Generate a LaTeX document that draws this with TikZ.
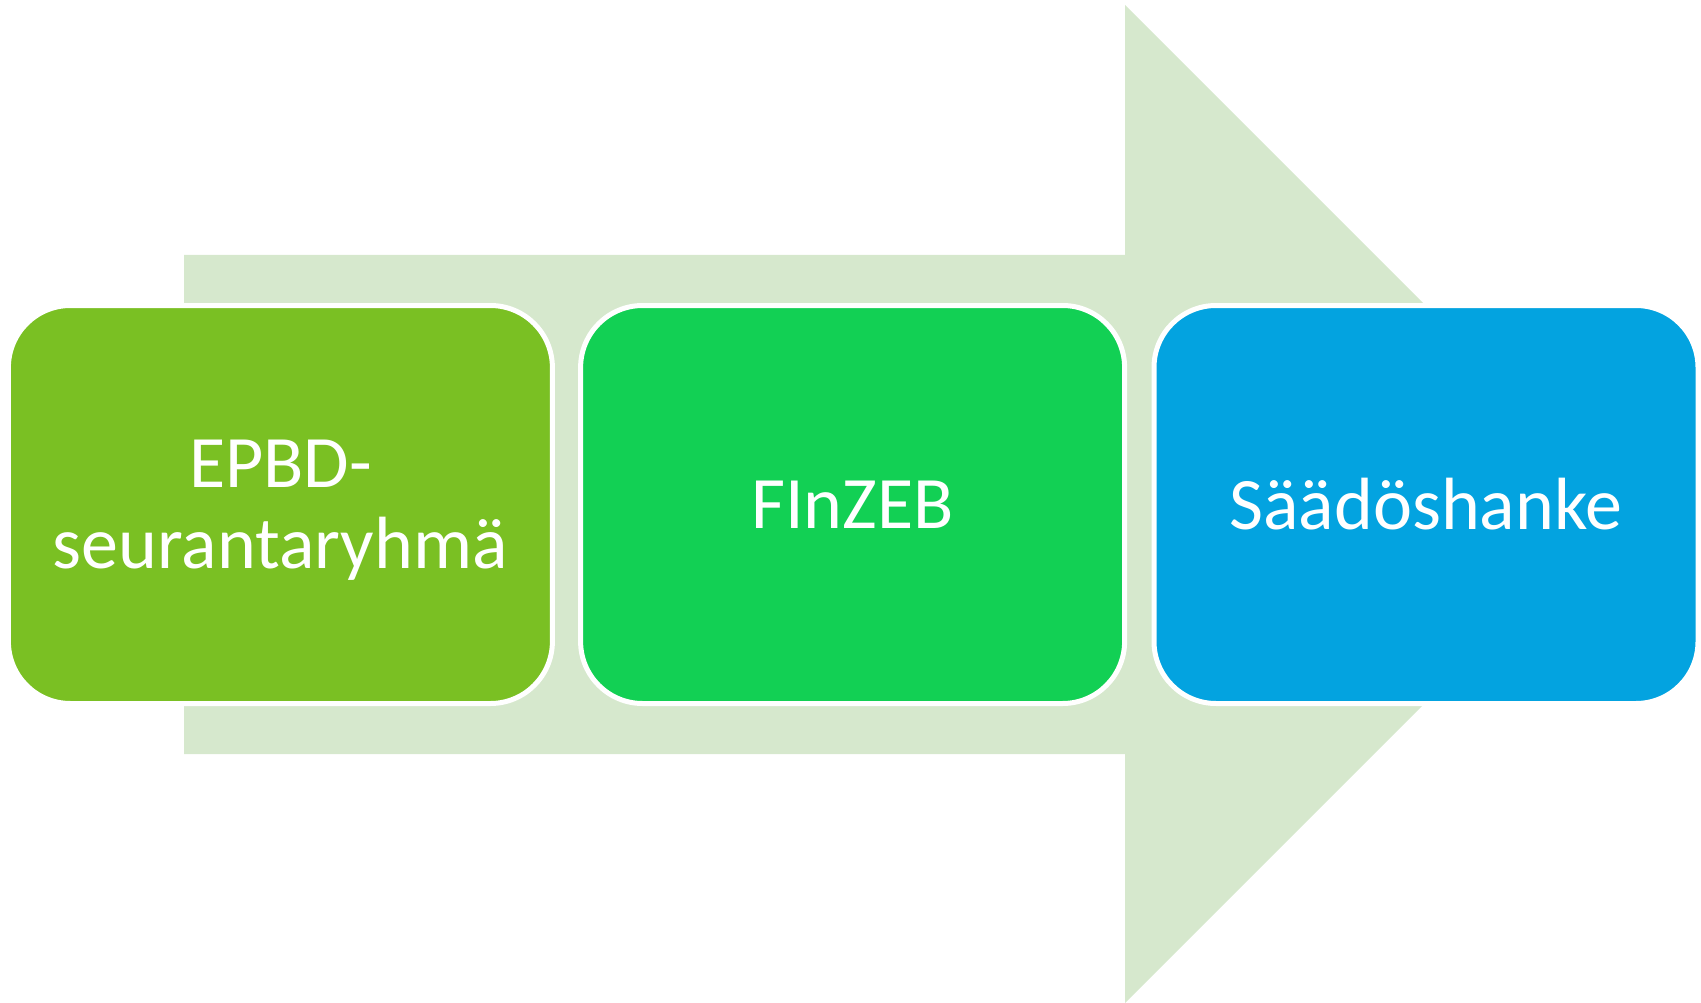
\documentclass[tikz,border=0pt]{standalone}
\usepackage{fontspec}
\setmainfont{Carlito}
\definecolor{arrowc}{RGB}{214,232,205}
\definecolor{cA}{RGB}{122,192,35}
\definecolor{cB}{RGB}{18,208,84}
\definecolor{cC}{RGB}{3,163,224}
\tikzset{
  stagebox/.style={rectangle, rounded corners=62pt, draw=white, line width=5pt,
    minimum width=544pt, minimum height=398pt, inner sep=0pt, align=center,
    text=white, font=\fontsize{74}{81}\selectfont}
}
\begin{document}
\begin{tikzpicture}[x=1pt,y=-1pt]
\useasboundingbox (0,0) rectangle (1701,1003);
\fill[arrowc] (184,255) -- (1125,255) -- (1125,5) -- (1624,504) -- (1125,1003) -- (1125,754) -- (184,754) -- cycle;
\node[stagebox, fill=cA] (b1) at (280.4,504.5) {\rule{0pt}{59pt}EPBD-\\seurantaryhmä};
\node[stagebox, fill=cB] (b2) at (852.6,504.5) {FInZEB};
\node[stagebox, fill=cC] (b3) at (1426,504.5) {Säädöshanke};
\end{tikzpicture}
\end{document}
